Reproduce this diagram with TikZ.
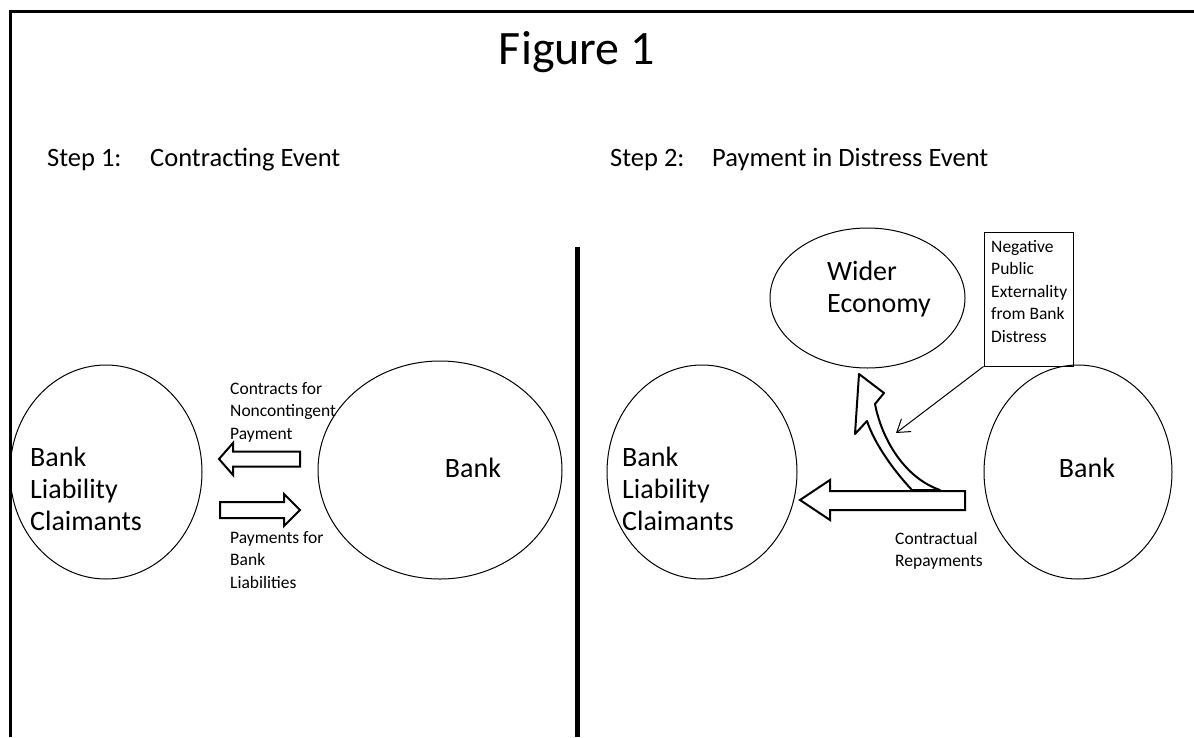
\documentclass[tikz,border=0pt]{standalone}
\usepackage{fontspec}
\setmainfont{Carlito}
\usetikzlibrary{arrows.meta,shapes.geometric}
\begin{document}
\begin{tikzpicture}[x=1pt,y=-1pt,
  ell/.style={draw, ellipse, line width=1pt, inner sep=0pt},
  blk/.style={draw, fill=white, line width=2pt, line join=miter},
  small/.style={anchor=west, align=left, inner sep=0pt, font=\fontsize{17.5}{22.5}\selectfont},
  mid/.style={anchor=west, align=left, inner sep=0pt, font=\fontsize{28}{32}\selectfont},
  head/.style={anchor=west, inner sep=0pt, font=\fontsize{26.5}{30}\selectfont},
]
\useasboundingbox (0,0) rectangle (1194,737);
% frame
\draw[line width=3pt] (10,737) -- (10,11) -- (1194,11);
\draw[line width=5pt] (577,247) -- (577,737);
% titles
\node[inner sep=0pt, font=\fontsize{48}{52}\selectfont] (title) at (577,52) {Figure 1};
\node[head] (s1) at (47,160) {Step 1:};
\node[head] (s1t) at (150,160) {Contracting Event};
\node[head] (s2) at (610,160) {Step 2:};
\node[head] (s2t) at (712,160) {Payment in Distress Event};
% left half
\node[ell, minimum width=192pt, minimum height=214pt] (LC) at (106,472) {};
\node[mid] (LCt) at (30,489) {Bank\\Liability\\Claimants};
\node[ell, minimum width=244pt, minimum height=218pt] (LB) at (440,470) {};
\node[mid, anchor=center] (LBt) at (473,468) {Bank};
\node[small] (c1) at (230,412) {Contracts for\\Noncontingent\\Payment};
\node[small] (c2) at (230,560) {Payments for\\Bank\\Liabilities};
\draw[blk] (219,459) -- (233,443) -- (233,451.5) -- (300,451.5) -- (300,466.5) -- (233,466.5) -- (233,475) -- cycle;
\draw[blk] (300,510) -- (284,494) -- (284,502) -- (220,502) -- (220,518) -- (284,518) -- (284,526) -- cycle;
% right half
\node[ell, minimum width=190pt, minimum height=214pt] (RC) at (702,472) {};
\node[mid] (RCt) at (622,489) {Bank\\Liability\\Claimants};
\node[ell, minimum width=188pt, minimum height=214pt] (RB) at (1078,472) {};
\node[mid, anchor=center] (RBt) at (1087,468) {Bank};
\node[ell, minimum width=195pt, minimum height=140pt] (W) at (867.5,298) {};
\node[mid] (Wt) at (827,289) {Wider\\Economy};
\node[draw, line width=1pt, minimum width=89pt, minimum height=134pt, inner sep=0pt] (box) at (1028.5,299) {};
\node[small] (boxt) at (991,291.5) {Negative\\Public\\Externality\\from Bank\\Distress};
\node[small] (cr) at (895,551) {Contractual\\Repayments};
% curved hollow arrow
\draw[blk, line width=2pt, line join=round] (912,490) .. controls (895,472) and (875,445) .. (867,421)
  -- (855,434) -- (859,374) -- (884,393) -- (875,404)
  .. controls (882,440) and (905,478) .. (940,490) -- cycle;
% big block arrow
\draw[blk] (800,500) -- (830,480) -- (830,491) -- (965,491) -- (965,510) -- (830,510) -- (830,520) -- cycle;
% thin arrow from box
\coordinate (tip) at (896,433);
\draw[line width=1pt, -{Straight Barb[length=12pt,width=16pt]}] (box.south west) -- (tip);
\end{tikzpicture}
\end{document}
